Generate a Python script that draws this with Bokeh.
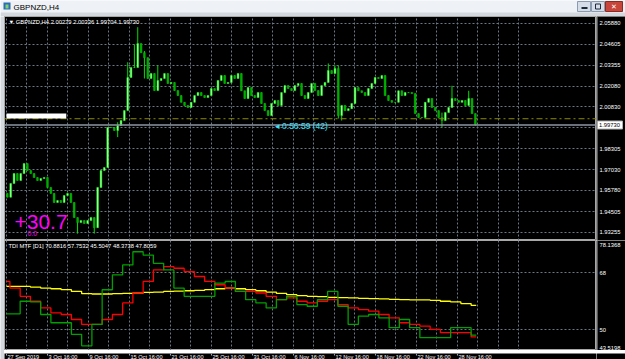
import numpy as np
from bokeh.plotting import figure
from bokeh.layouts import column, row
from bokeh.models import Range1d, FixedTicker, Label, Span, BoxAnnotation
from bokeh.core.properties import value
from bokeh.embed import file_html
from bokeh.resources import INLINE

# ---------------- data ----------------
window_title = "GBPNZD,H4"
main_header = "\u25bc GBPNZD,H4  2.00279 2.00336 1.99704 1.99730"
closes = [
    1.9537, 1.9620, 1.9680, 1.9638, 1.9680, 1.9740, 1.9698, 1.9680, 1.9656, 1.9638,
    1.9650, 1.9656, 1.9596, 1.9560, 1.9505, 1.9517, 1.9505, 1.9547, 1.9560, 1.9505,
    1.9414, 1.9384, 1.9396, 1.9378, 1.9396, 1.9414, 1.9353, 1.9596, 1.9698, 1.9716,
    1.9958, 1.9958, 1.9940, 1.9970, 2.0000, 2.0060, 2.0260, 2.0320, 2.0320, 2.0465,
    2.0410, 2.0380, 2.0254, 2.0284, 2.0181, 2.0242, 2.0254, 2.0284, 2.0224, 2.0230,
    2.0181, 2.0151, 2.0110, 2.0091, 2.0079, 2.0110, 2.0151, 2.0169, 2.0151, 2.0139,
    2.0151, 2.0193, 2.0181, 2.0242, 2.0272, 2.0224, 2.0230, 2.0272, 2.0254,
    2.0284, 2.0180, 2.0133, 2.0199, 2.0151, 2.0139, 2.0169, 2.0103, 2.0060, 2.0030,
    2.0103, 2.0121, 2.0091, 2.0169, 2.0211, 2.0193, 2.0181, 2.0211, 2.0224, 2.0151,
    2.0133, 2.0169, 2.0224, 2.0181, 2.0151, 2.0211, 2.0230, 2.0302, 2.0284, 2.0314,
    2.0030, 2.0091, 2.0060, 2.0072, 2.0103, 2.0199, 2.0180, 2.0169, 2.0151, 2.0193,
    2.0224, 2.0260, 2.0254, 2.0272, 2.0151, 2.0121, 2.0110, 2.0110, 2.0180, 2.0151,
    2.0169, 2.0169, 2.0163, 2.0042, 2.0018, 2.0018, 2.0110, 2.0133, 2.0079, 2.0060,
    2.0018, 2.0000, 2.0048, 2.0079, 2.0133, 2.0121, 2.0110, 2.0121, 2.0091, 2.0133,
    2.0042, 1.9973,
]
first_open = 1.9560
spike_idx = [21, 26, 30, 33, 36, 38, 39, 41, 45, 96, 98, 99, 100, 130, 133, 138, 140]
spike_high = [1.9396, 1.9414, 1.9958, 1.9990, 2.0352, 2.0460, 2.0564, 2.0420, 2.0333,
              2.0345, 2.0333, 2.0333, 2.0091, 2.0048, 2.0210, 2.0180, 2.0042]
spike_low = [1.9317, 1.9317, 1.9899, 1.9900, 2.0180, 2.0320, 2.0320, 2.0254, 2.0181,
             2.0284, 2.0284, 2.0012, 2.0000, 1.9960, 2.0079, 2.0133, 1.9970]
bars_covered = 275            # H4 bars spanned by the candles
bid_price = 1.99730
level_line = 2.0011
white_box = (0, 35, 2.0012, 2.0043)   # bar start, bar end, price low, price high
price_ticks = [2.05880, 2.04605, 2.03355, 2.02080, 2.00830, 1.99555,
               1.98305, 1.97030, 1.95780, 1.94505, 1.93255]
time_labels = ["27 Sep 2019", "3 Oct 16:00", "9 Oct 16:00", "15 Oct 16:00",
               "21 Oct 16:00", "25 Oct 16:00", "31 Oct 16:00", "6 Nov 16:00",
               "12 Nov 16:00", "18 Nov 16:00", "22 Nov 16:00", "28 Nov 16:00"]
bars_per_label = 24
timer_text = "\u25c2 0:56:59 (42)"
timer_bar = 157
profit_text = "+30.7"
profit_sub = "0.0"

tdi_header = "TDI MTF [D1] 70.8816 57.7532 45.5047 48.3738 47.8059"
tdi_max, tdi_min = 78.1368, 43.5198
tdi_ticks = [68, 50]
rsi_line = [55.06, 55.06, 59.02, 58.80, 54.85, 52.25, 52.25, 48.61, 44.99, 51.72,
            62.64, 67.32, 70.44, 74.60, 73.56, 70.96, 68.88, 63.17, 60.57, 60.57,
            60.57, 64.72, 65.24, 62.12, 59.52, 58.49, 56.93, 59.52, 60.57, 57.97,
            57.45, 59.52, 62.12, 57.45, 51.72, 54.33, 54.85, 53.81, 50.69, 53.28,
            50.69, 47.57, 47.57, 47.57, 50.69, 50.69, 48.37]
signal_line = [65.25, 63.17, 60.57, 59.02, 56.93, 55.37, 54.85, 53.28, 51.72, 51.72,
               53.28, 54.85, 58.49, 61.61, 65.25, 68.88, 69.92, 69.40, 68.36, 66.80,
               65.25, 64.21, 63.17, 62.12, 62.12, 61.61, 60.57, 59.52, 60.05, 59.02,
               58.49, 59.02, 59.52, 57.97, 56.93, 56.41, 55.89, 54.85, 53.81, 52.25,
               51.72, 51.20, 50.16, 49.13, 49.13, 49.13, 47.81]
base_line = [63.69, 63.69, 63.69, 63.48, 63.17, 62.96, 62.65, 62.12, 61.40, 61.30,
             61.30, 61.40, 61.51, 61.61, 61.82, 61.92, 62.12, 62.23, 62.33, 62.44,
             62.65, 62.96, 63.17, 62.96, 62.65, 62.33, 61.92, 61.51, 61.09, 60.78,
             60.57, 60.47, 60.26, 60.16, 60.05, 59.95, 59.84, 59.74, 59.64, 59.52,
             59.43, 59.43, 59.32, 59.02, 58.81, 58.29, 57.75]

# ---------------- styling ----------------
BG = "#000000"
GRID = "#6b7785"
AX_TXT = "#ffffff"
FRAME = "#a8a8a8"
FONT_NAME = "Liberation Sans"
FONT = value(FONT_NAME)
SMALL = "5.8px"
PANE_W, SCALE_W = 592, 29
MAIN_H, IND_H, TIME_H = 224, 110, 9

n = len(closes)
opens = [first_open] + closes[:-1]
highs = [max(o, c) for o, c in zip(opens, closes)]
lows = [min(o, c) for o, c in zip(opens, closes)]
for i, h, l in zip(spike_idx, spike_high, spike_low):
    highs[i] = max(highs[i], h)
    lows[i] = min(lows[i], l)
xs = np.linspace(0.5, bars_covered - 0.5, n)
up = np.array(closes) >= np.array(opens)

x_range = Range1d(-1.17, 345.4)
label_bars = [i * bars_per_label for i in range(len(time_labels))]
grid_bars = [i * bars_per_label / 2 for i in range(2 * len(time_labels) + 2)]


def bare(fig, fill):
    fig.axis.visible = False
    fig.grid.visible = False
    fig.outline_line_color = None
    fig.background_fill_color = fill
    fig.border_fill_color = fill
    return fig


# ---------------- title bar ----------------
tb = bare(figure(width=625, height=16, x_range=Range1d(0, 625), y_range=Range1d(16, 0),
                 toolbar_location=None, output_backend="svg", min_border=0), "#eef2f7")
tb.quad(left=[0], right=[625], top=[12], bottom=[16], fill_color="#d3d8de", line_color=None)
tb.quad(left=[3, 5], right=[10, 8], top=[2, 4], bottom=[9, 8],
        fill_color=["#2d6db5", "#7fd36a"], line_color=None)
tb.text(x=[13], y=[6.5], text=[window_title], text_font=FONT, text_font_size="8px",
        text_color="#000000", text_baseline="middle")
tb.quad(left=[577, 591], right=[590, 604], top=[1, 1], bottom=[11, 11],
        fill_color="#d4dde8", line_color="#8a9bb0")
tb.quad(left=[605], right=[622], top=[1], bottom=[11], fill_color="#c7453a", line_color="#8b2a22")
tb.segment(x0=[581], y0=[7.5], x1=[587], y1=[7.5], line_color="#1d2a3a", line_width=2)
tb.quad(left=[595], right=[600], top=[3.5], bottom=[8.5], fill_color=None, line_color="#1d2a3a")
tb.text(x=[613.5], y=[6], text=["\u2715"], text_color="#ffffff", text_font=FONT,
        text_font_size="7px", text_align="center", text_baseline="middle")

# ---------------- left frame ----------------
lf = bare(figure(width=4, height=MAIN_H + IND_H + TIME_H, toolbar_location=None,
                 output_backend="svg", min_border=0), "#d3d8de")

# ---------------- main pane ----------------
p = figure(width=PANE_W, height=MAIN_H, x_range=x_range, y_range=Range1d(1.92755, 2.06285),
           toolbar_location=None, output_backend="svg", min_border=0)
p.background_fill_color = BG
p.border_fill_color = BG
p.outline_line_color = FRAME
p.axis.visible = False
p.ygrid.ticker = FixedTicker(ticks=price_ticks)
p.xgrid.ticker = FixedTicker(ticks=grid_bars)
for g in (p.xgrid, p.ygrid):
    g.grid_line_color = GRID
    g.grid_line_dash = "2 2"

p.add_layout(Span(location=level_line, dimension="width", line_color="#8a8a00",
                  line_dash="6 3 2 3", line_width=1))
p.add_layout(Span(location=bid_price, dimension="width", line_color="#8d96a2", line_width=1.5))
p.add_layout(BoxAnnotation(left=white_box[0], right=white_box[1], bottom=white_box[2],
                           top=white_box[3], fill_color="#ffffff", fill_alpha=1, line_color=None))

p.segment(x0=xs, y0=lows, x1=xs, y1=highs, line_color="#00e000", line_width=1)
p.vbar(x=xs[up], width=1.0, bottom=np.array(opens)[up], top=np.array(closes)[up],
       fill_color="#a8ffa8", line_color="#00ff00", line_width=0.5)
p.vbar(x=xs[~up], width=1.0, bottom=np.array(closes)[~up], top=np.array(opens)[~up],
       fill_color="#00a800", line_color="#00c800", line_width=0.5)

p.add_layout(Label(x=x_range.start, y=p.y_range.end, x_offset=4, y_offset=-2,
                   text=main_header, text_font=FONT_NAME, text_font_size=SMALL,
                   text_color="#ffffff", text_baseline="top"))
p.add_layout(Label(x=timer_bar, y=bid_price, y_offset=-1, text=timer_text,
                   text_font=FONT_NAME, text_font_size="8.5px", text_color="#33e0ff",
                   text_baseline="middle"))
p.add_layout(Label(x=x_range.start, y=p.y_range.start, x_offset=10, y_offset=19,
                   text=profit_text, text_font=FONT_NAME, text_font_size="21px",
                   text_color="#ff00ff", text_baseline="alphabetic"))
p.add_layout(Label(x=x_range.start, y=p.y_range.start, x_offset=23, y_offset=7,
                   text=profit_sub, text_font=FONT_NAME, text_font_size="7px",
                   text_color="#ff00ff", text_baseline="alphabetic"))

# price scale column
pax = bare(figure(width=SCALE_W, height=MAIN_H, x_range=Range1d(0, SCALE_W), y_range=p.y_range,
                  toolbar_location=None, output_backend="svg", min_border=0), BG)
pax.add_layout(Span(location=0.5, dimension="height", line_color=FRAME, line_width=1))
shown = [t for t in price_ticks if abs(t - bid_price) > 0.002]
pax.text(x=[3] * len(shown), y=shown, text=[f"{t:.5f}" for t in shown], text_font=FONT,
         text_font_size=SMALL, text_color=AX_TXT, text_baseline="middle")
pax.rect(x=[13.5], y=[bid_price], width=[25], height=[8], height_units="screen",
         fill_color="#ffffff", line_color="#b0b0b0")
pax.text(x=[2.5], y=[bid_price], text=[f"{bid_price:.5f}"], text_font=FONT,
         text_font_size=SMALL, text_color="#000000", text_baseline="middle")

# ---------------- indicator pane ----------------
q = figure(width=PANE_W, height=IND_H, x_range=x_range, y_range=Range1d(tdi_min, tdi_max),
           toolbar_location=None, output_backend="svg", min_border=0)
q.background_fill_color = BG
q.border_fill_color = BG
q.outline_line_color = FRAME
q.axis.visible = False
q.ygrid.ticker = FixedTicker(ticks=tdi_ticks)
q.xgrid.ticker = FixedTicker(ticks=grid_bars)
for g in (q.xgrid, q.ygrid):
    g.grid_line_color = GRID
    g.grid_line_dash = "2 2"

nd = len(rsi_line)
day_x = [0] + [2 + 6 * d for d in range(nd - 1)] + [bars_covered]
def stepped(vals):
    return list(vals) + [vals[-1]]
q.step(x=day_x, y=stepped(base_line), mode="after", line_color="#ffff00", line_width=1.3)
q.step(x=day_x, y=stepped(signal_line), mode="after", line_color="#ff0000", line_width=1.3)
q.step(x=day_x, y=stepped(rsi_line), mode="after", line_color="#00a000", line_width=1.3)

q.add_layout(Label(x=x_range.start, y=tdi_max, x_offset=4, y_offset=-2, text=tdi_header,
                   text_font=FONT_NAME, text_font_size=SMALL, text_color="#ffffff",
                   text_baseline="top"))

qax = bare(figure(width=SCALE_W, height=IND_H, x_range=Range1d(0, SCALE_W), y_range=q.y_range,
                  toolbar_location=None, output_backend="svg", min_border=0), BG)
qax.add_layout(Span(location=0.5, dimension="height", line_color=FRAME, line_width=1))
qax.text(x=[3, 3], y=tdi_ticks, text=[f"{t:g}" for t in tdi_ticks], text_font=FONT,
         text_font_size=SMALL, text_color=AX_TXT, text_baseline="middle")
qax.text(x=[3], y=[tdi_max], y_offset=[2], text=[f"{tdi_max:.4f}"], text_font=FONT,
         text_font_size=SMALL, text_color=AX_TXT, text_baseline="top")
qax.text(x=[3], y=[tdi_min], y_offset=[-1], text=[f"{tdi_min:.4f}"], text_font=FONT,
         text_font_size=SMALL, text_color=AX_TXT, text_baseline="bottom")

# ---------------- time scale ----------------
tx = bare(figure(width=PANE_W, height=TIME_H, x_range=x_range, y_range=Range1d(0, TIME_H),
                 toolbar_location=None, output_backend="svg", min_border=0), BG)
tx.text(x=label_bars, y=[TIME_H - 0.5] * len(label_bars), x_offset=[1] * len(label_bars),
        text=time_labels, text_font=FONT, text_font_size="5.6px", text_color=AX_TXT,
        text_baseline="top", text_align="left")
tx.segment(x0=label_bars, y0=[TIME_H] * len(label_bars), x1=label_bars,
           y1=[TIME_H - 2] * len(label_bars), line_color=FRAME)
corner = bare(figure(width=SCALE_W, height=TIME_H, toolbar_location=None,
                     output_backend="svg", min_border=0), BG)

layout = column(tb,
                row(lf,
                    column(p, q, tx, spacing=0),
                    column(pax, qax, corner, spacing=0), spacing=0),
                spacing=0)
open("out.html", "w").write(file_html(layout, INLINE))
